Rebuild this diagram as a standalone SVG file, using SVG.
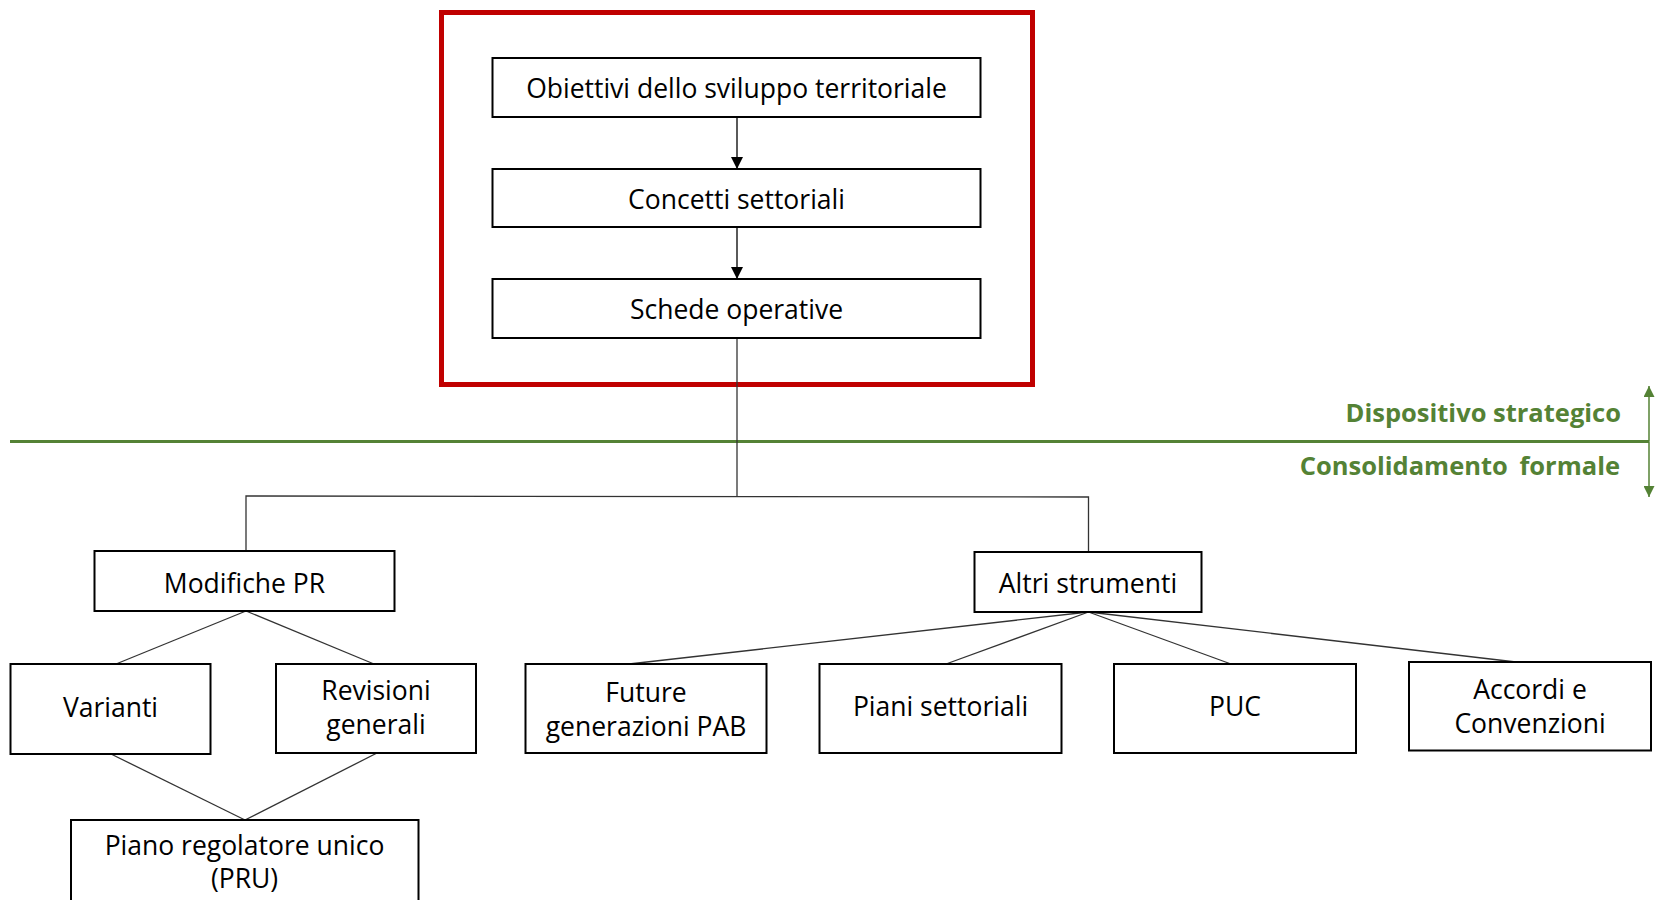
<svg xmlns="http://www.w3.org/2000/svg" width="1657" height="900" viewBox="0 0 1657 900">
<style>
.box{fill:#fff;stroke:#000;stroke-width:2}
.t{font-family:"Open Sans","Liberation Sans",sans-serif;font-size:26.5px;fill:#000;text-anchor:middle}
.g{font-family:"Open Sans","Liberation Sans",sans-serif;font-size:25.5px;font-weight:bold;fill:#548235;text-anchor:end}
.c{stroke:#333;stroke-width:1.3;fill:none}
</style>
<defs>
<marker id="ah" viewBox="0 0 10 10" refX="10" refY="5" markerWidth="13" markerHeight="12" markerUnits="userSpaceOnUse" orient="auto">
<path d="M0,0 L10,5 L0,10 z" fill="#000"/>
</marker>
<marker id="gh" viewBox="0 0 10 10" refX="10" refY="5" markerWidth="13" markerHeight="11" markerUnits="userSpaceOnUse" orient="auto">
<path d="M0,0 L10,5 L0,10 z" fill="#548235"/>
</marker>
</defs>
<rect width="1657" height="900" fill="#fff"/>
<g id="strategic-frame">
<rect x="441.5" y="12.5" width="591" height="372" fill="none" stroke="#C00000" stroke-width="5"/>
</g>
<g id="divider">
<line x1="10" y1="441.5" x2="1649" y2="441.5" stroke="#548235" stroke-width="3"/>
<line x1="1649" y1="441.5" x2="1649" y2="386" stroke="#548235" stroke-width="1.5" marker-end="url(#gh)"/>
<line x1="1649" y1="441.5" x2="1649" y2="497" stroke="#548235" stroke-width="1.5" marker-end="url(#gh)"/>
<text class="g" x="1621" y="422">Dispositivo strategico</text>
<text class="g" x="1620" y="475" word-spacing="5">Consolidamento formale</text>
</g>
<g id="connectors">
<line x1="737" y1="117" x2="737" y2="169" stroke="#000" stroke-width="1.3" marker-end="url(#ah)"/>
<line x1="737" y1="227" x2="737" y2="279" stroke="#000" stroke-width="1.3" marker-end="url(#ah)"/>
<polyline class="c" points="737,338 737,496.5"/>
<polyline class="c" points="246,551 246,496 1088.5,497 1088.5,552"/>
<line class="c" x1="246" y1="611" x2="116" y2="664"/>
<line class="c" x1="246" y1="611" x2="374" y2="664"/>
<line class="c" x1="111" y1="754" x2="245" y2="820"/>
<line class="c" x1="377" y1="753" x2="245" y2="820"/>
<line class="c" x1="1088.5" y1="612" x2="629" y2="664"/>
<line class="c" x1="1088.5" y1="612" x2="946" y2="664"/>
<line class="c" x1="1088.5" y1="612" x2="1231" y2="664"/>
<line class="c" x1="1088.5" y1="612" x2="1516" y2="662"/>
</g>
<g id="obiettivi">
<rect class="box" x="492.5" y="58" width="488" height="59"/>
<text class="t" x="736.5" y="98">Obiettivi dello sviluppo territoriale</text>
</g>
<g id="concetti">
<rect class="box" x="492.5" y="169" width="488" height="58"/>
<text class="t" x="736.5" y="209">Concetti settoriali</text>
</g>
<g id="schede">
<rect class="box" x="492.5" y="279" width="488" height="59"/>
<text class="t" x="736.5" y="319">Schede operative</text>
</g>
<g id="modifiche">
<rect class="box" x="94.5" y="551" width="300" height="60"/>
<text class="t" x="244.5" y="593">Modifiche PR</text>
</g>
<g id="altri">
<rect class="box" x="974.5" y="552" width="227" height="60"/>
<text class="t" x="1088" y="593">Altri strumenti</text>
</g>
<g id="varianti">
<rect class="box" x="10.5" y="664" width="200" height="90"/>
<text class="t" x="110.5" y="717">Varianti</text>
</g>
<g id="revisioni">
<rect class="box" x="276" y="664" width="200" height="89"/>
<text class="t" x="376" y="700">Revisioni</text>
<text class="t" x="376" y="734">generali</text>
</g>
<g id="pru">
<rect class="box" x="71" y="820" width="347.5" height="95"/>
<text class="t" x="244.5" y="855">Piano regolatore unico</text>
<text class="t" x="244.5" y="888">(PRU)</text>
</g>
<g id="future">
<rect class="box" x="525.5" y="664" width="241" height="89"/>
<text class="t" x="646" y="702">Future</text>
<text class="t" x="646" y="736">generazioni PAB</text>
</g>
<g id="piani">
<rect class="box" x="819.5" y="664" width="242" height="89"/>
<text class="t" x="940.5" y="716">Piani settoriali</text>
</g>
<g id="puc">
<rect class="box" x="1114" y="664" width="242" height="89"/>
<text class="t" x="1235" y="716">PUC</text>
</g>
<g id="accordi">
<rect class="box" x="1409" y="662" width="242" height="88.5"/>
<text class="t" x="1530" y="699">Accordi e</text>
<text class="t" x="1530" y="733">Convenzioni</text>
</g>
</svg>
